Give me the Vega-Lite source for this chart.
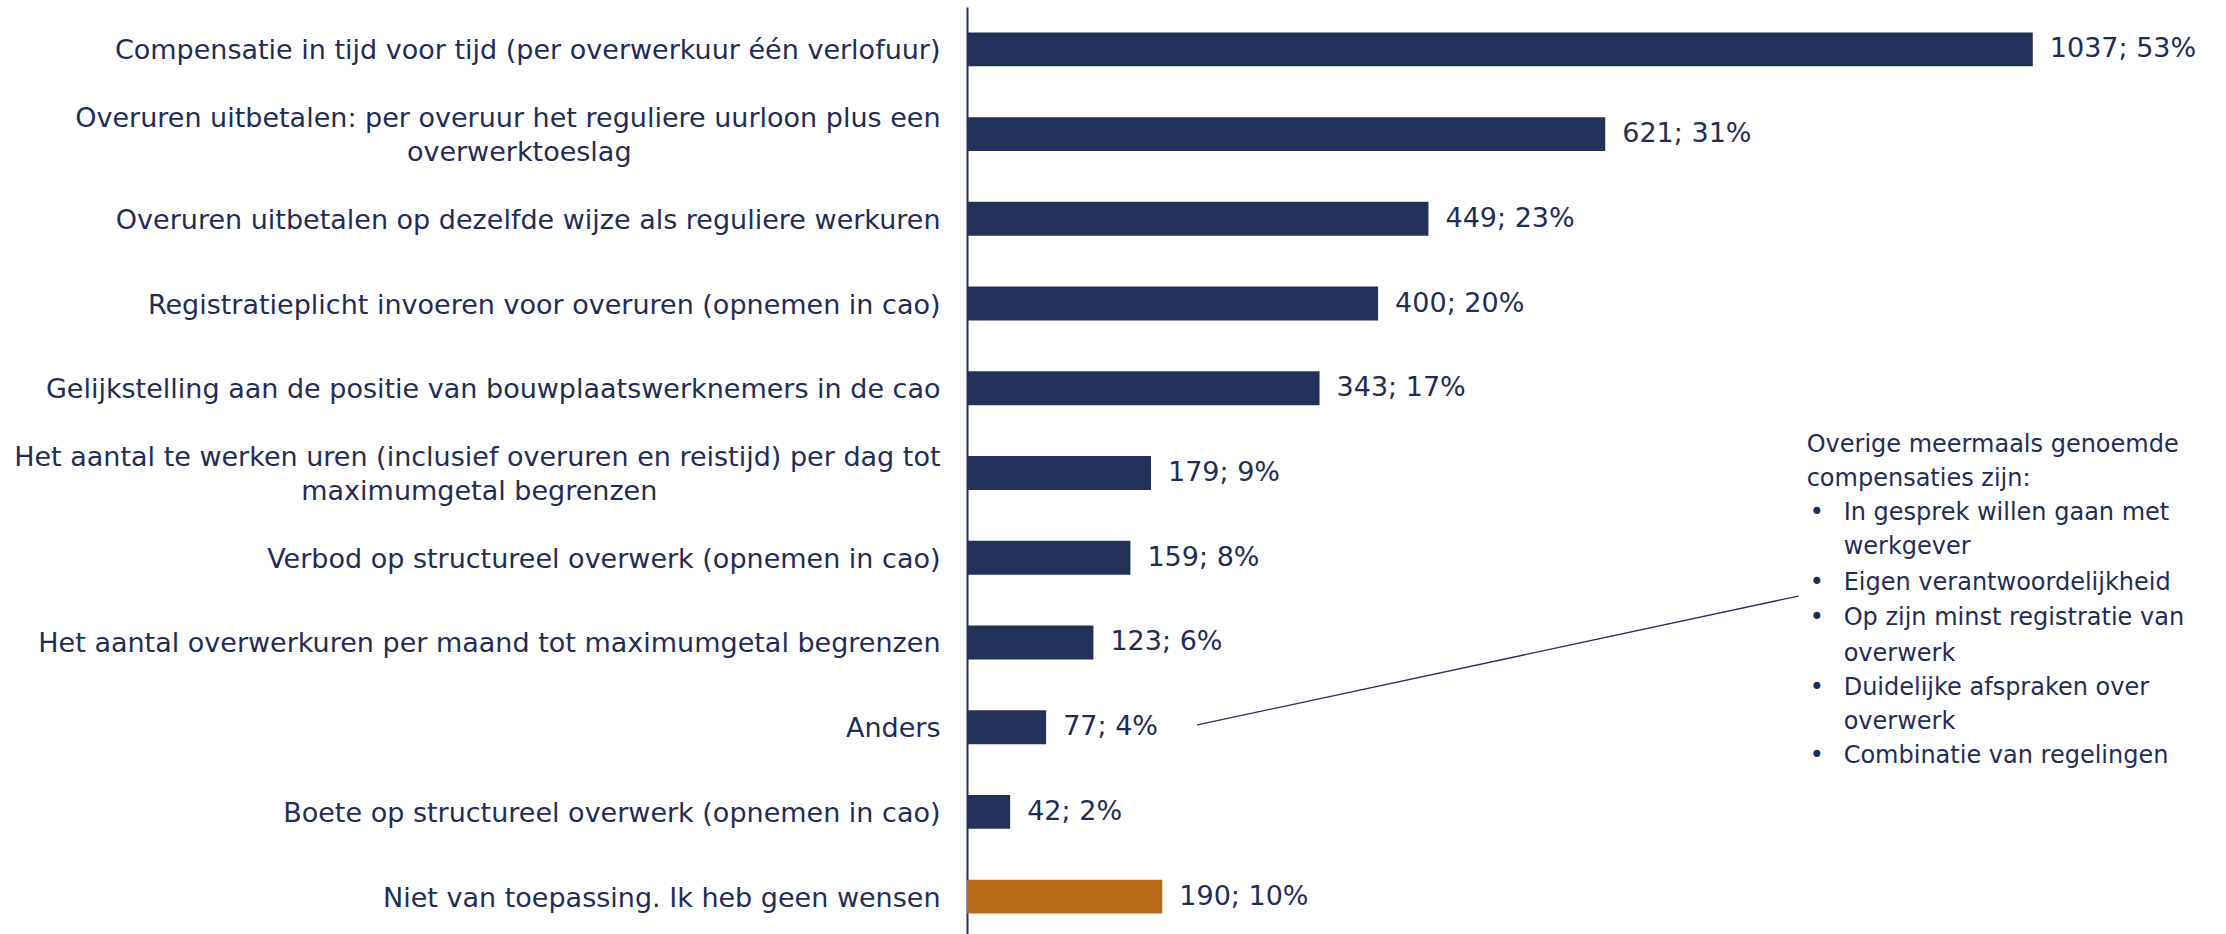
{
  "$schema": "https://vega.github.io/schema/vega-lite/v6.json",
  "autosize": "none",
  "padding": {"left": 967, "top": 7, "right": 0, "bottom": 0},
  "width": 1259,
  "height": 932,
  "background": "white",
  "config": {"view": {"stroke": null}, "font": "DejaVu Sans"},
  "datasets": {
    "bars": [
      {"item": "Compensatie in tijd voor tijd (per overwerkuur één verlofuur)", "n": 1037, "label": "1037; 53%", "group": "wens"},
      {"item": "Overuren uitbetalen: per overuur het reguliere uurloon plus een|overwerktoeslag\u00a0\u00a0\u00a0\u00a0\u00a0\u00a0\u00a0\u00a0\u00a0\u00a0\u00a0\u00a0\u00a0\u00a0\u00a0\u00a0\u00a0\u00a0\u00a0\u00a0\u00a0\u00a0\u00a0\u00a0\u00a0\u00a0\u00a0\u00a0\u00a0\u00a0\u00a0\u00a0\u00a0\u00a0\u00a0\u00a0\u200b", "n": 621, "label": "621; 31%", "group": "wens"},
      {"item": "Overuren uitbetalen op dezelfde wijze als reguliere werkuren", "n": 449, "label": "449; 23%", "group": "wens"},
      {"item": "Registratieplicht invoeren voor overuren (opnemen in cao)", "n": 400, "label": "400; 20%", "group": "wens"},
      {"item": "Gelijkstelling aan de positie van bouwplaatswerknemers in de cao", "n": 343, "label": "343; 17%", "group": "wens"},
      {"item": "Het aantal te werken uren (inclusief overuren en reistijd) per dag tot|maximumgetal begrenzen\u00a0\u00a0\u00a0\u00a0\u00a0\u00a0\u00a0\u00a0\u00a0\u00a0\u00a0\u00a0\u00a0\u00a0\u00a0\u00a0\u00a0\u00a0\u00a0\u00a0\u00a0\u00a0\u00a0\u00a0\u00a0\u00a0\u00a0\u00a0\u00a0\u00a0\u00a0\u00a0\u00a0\u200b", "n": 179, "label": "179; 9%", "group": "wens"},
      {"item": "Verbod op structureel overwerk (opnemen in cao)", "n": 159, "label": "159; 8%", "group": "wens"},
      {"item": "Het aantal overwerkuren per maand tot maximumgetal begrenzen", "n": 123, "label": "123; 6%", "group": "wens"},
      {"item": "Anders", "n": 77, "label": "77; 4%", "group": "wens"},
      {"item": "Boete op structureel overwerk (opnemen in cao)", "n": 42, "label": "42; 2%", "group": "wens"},
      {"item": "Niet van toepassing. Ik heb geen wensen", "n": 190, "label": "190; 10%", "group": "geen"}
    ],
    "notes": [
      {"t": "Overige meermaals genoemde", "ax": 817, "ay": 5.17},
      {"t": "compensaties zijn:", "ax": 817, "ay": 5.573},
      {"t": "•", "ax": 820, "ay": 5.975},
      {"t": "In gesprek willen gaan met", "ax": 853, "ay": 5.975},
      {"t": "werkgever", "ax": 853, "ay": 6.376},
      {"t": "•", "ax": 820, "ay": 6.795},
      {"t": "Eigen verantwoordelijkheid", "ax": 853, "ay": 6.795},
      {"t": "•", "ax": 820, "ay": 7.214},
      {"t": "Op zijn minst registratie van", "ax": 853, "ay": 7.214},
      {"t": "overwerk", "ax": 853, "ay": 7.633},
      {"t": "•", "ax": 820, "ay": 8.036},
      {"t": "Duidelijke afspraken over", "ax": 853, "ay": 8.036},
      {"t": "overwerk", "ax": 853, "ay": 8.438},
      {"t": "•", "ax": 820, "ay": 8.839},
      {"t": "Combinatie van regelingen", "ax": 853, "ay": 8.839}
    ],
    "leader": [
      {"ax": 224, "ay": 8.474, "ax2": 809, "ay2": 6.952}
    ]
  },
  "resolve": {"scale": {"y": "independent"}},
  "layer": [
    {
      "data": {"name": "bars"},
      "layer": [
        {
          "mark": {"type": "bar", "clip": false},
          "encoding": {
            "y": {
              "field": "item", "type": "nominal", "sort": null,
              "scale": {"paddingInner": 0.6, "paddingOuter": 0.3},
              "axis": {
                "title": null,
                "labelExpr": "split(datum.label, '|')",
                "labelFontSize": 27,
                "labelFont": "DejaVu Sans",
                "labelColor": "#1F2D57",
                "labelPadding": 27,
                "labelLimit": 0,
                "labelLineHeight": 34,
                "labelBaseline": {"condition": {"test": "indexof(datum.value, '|') >= 0", "value": "line-bottom"}, "value": "middle"},
                "labelOffset": 2,
                "ticks": false,
                "grid": false,
                "domainColor": "#22305A",
                "domainWidth": 2
              }
            },
            "x": {"field": "n", "type": "quantitative", "scale": {"domain": [0, 1225], "nice": false, "zero": true}, "axis": null},
            "color": {"field": "group", "type": "nominal", "scale": {"domain": ["wens", "geen"], "range": ["#22305A", "#B86C17"]}, "legend": null}
          }
        },
        {
          "mark": {"type": "text", "align": "left", "baseline": "middle", "dx": 17, "fontSize": 27, "font": "DejaVu Sans", "color": "#1F2D57"},
          "encoding": {
            "y": {"field": "item", "type": "nominal", "sort": null},
            "x": {"field": "n", "type": "quantitative", "scale": {"domain": [0, 1225], "nice": false}},
            "text": {"field": "label"}
          }
        }
      ]
    },
    {
      "layer": [
        {
          "data": {"name": "leader"},
          "mark": {"type": "rule", "color": "#22305A", "strokeWidth": 1.3},
          "encoding": {
            "x": {"field": "ax", "type": "quantitative", "scale": {"domain": [0, 1225], "nice": false}},
            "x2": {"field": "ax2"},
            "y": {"field": "ay", "type": "quantitative", "scale": {"domain": [0, 11], "reverse": true, "nice": false, "zero": false}, "axis": null},
            "y2": {"field": "ay2"}
          }
        },
        {
          "data": {"name": "notes"},
          "mark": {"type": "text", "align": "left", "baseline": "middle", "fontSize": 24, "font": "DejaVu Sans", "color": "#1F2D57"},
          "encoding": {
            "x": {"field": "ax", "type": "quantitative", "scale": {"domain": [0, 1225], "nice": false}},
            "y": {"field": "ay", "type": "quantitative", "scale": {"domain": [0, 11], "reverse": true, "nice": false, "zero": false}, "axis": null},
            "text": {"field": "t"}
          }
        }
      ]
    }
  ]
}
